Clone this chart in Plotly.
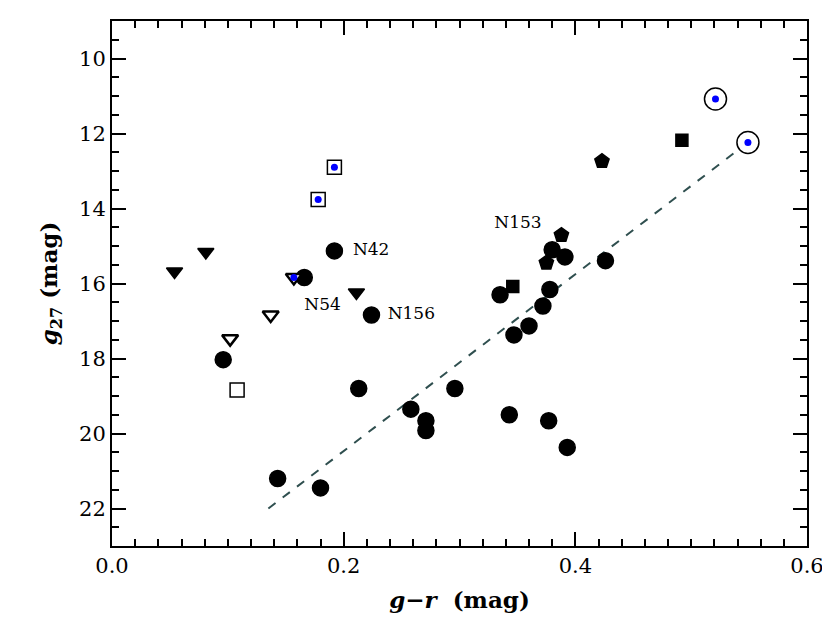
import plotly.graph_objects as go

circ_x = [0.192,0.166,0.224,0.096,0.213,0.143,0.180,0.258,0.271,0.271,0.296,0.335,0.347,0.360,0.372,0.378,0.380,0.391,0.426,0.343,0.377,0.393]
circ_y = [15.13,15.84,16.84,18.03,18.80,21.20,21.45,19.35,19.66,19.92,18.80,16.30,17.37,17.13,16.60,16.16,15.10,15.29,15.39,19.50,19.66,20.37]
pent_x = [0.423,0.388,0.375]
pent_y = [12.74,14.71,15.45]
sq_x = [0.346,0.492]
sq_y = [16.08,12.18]
tri_x = [0.054,0.081,0.211]
tri_y = [15.68,15.16,16.24]
otri_x = [0.137,0.102,0.157]
otri_y = [16.84,17.47,15.84]
osq_x = [0.192,0.178,0.108]
osq_y = [12.90,13.76,18.84]
ocirc_x = [0.521,0.549]
ocirc_y = [11.08,12.24]
dot_x = [0.192,0.178,0.157,0.521,0.549]
dot_y = [12.90,13.76,15.84,11.08,12.24]
fit_x = [0.135,0.549]
fit_y = [22.0,12.24]
lab_text = ["N42","N54","N156","N153"]
lab_x = [0.208,0.166,0.238,0.330]
lab_y = [15.13,16.6,16.84,14.4]

font = "DejaVu Serif"
fig = go.Figure()
fig.add_trace(go.Scatter(x=fit_x, y=fit_y, mode="lines", line=dict(color="#2f4f4f", width=2, dash="dash")))
def sc(x, y, sym, size, fill, lw=1.5):
    fig.add_trace(go.Scatter(x=x, y=y, mode="markers",
        marker=dict(symbol=sym, size=size, color=fill, line=dict(color="black", width=lw))))
sc(circ_x, circ_y, "circle", 16, "black")
sc(pent_x, pent_y, "pentagon", 15, "black")
sc(sq_x, sq_y, "square", 12, "black")
sc(tri_x, tri_y, "triangle-down", 14, "black")
sc(otri_x, otri_y, "triangle-down", 14, "white", 2.5)
sc(osq_x, osq_y, "square", 14, "white")
sc(ocirc_x, ocirc_y, "circle", 22, "white")
sc(dot_x, dot_y, "circle", 7, "blue", 0)
fig.add_trace(go.Scatter(x=lab_x, y=lab_y, text=lab_text, mode="text", textposition="middle right",
    textfont=dict(family=font, size=17, color="black")))

ax = dict(showline=True, linecolor="black", linewidth=2, mirror="ticks", ticks="inside",
          ticklen=14, tickwidth=2, tickcolor="black", showgrid=False, zeroline=False,
          tickfont=dict(family=font, size=21, color="black"))
fig.update_xaxes(**ax, range=[0, 0.6], dtick=0.2, tickformat=".1f",
    minor=dict(ticks="inside", ticklen=7, dtick=0.02, tickcolor="black", tickwidth=2),
    title=dict(text="<b><i>g</i>−<i>r</i>  (mag)</b>", font=dict(family=font, size=23, color="black")))
fig.update_yaxes(**ax, range=[23, 9], dtick=2,
    minor=dict(ticks="inside", ticklen=7, dtick=0.5, tickcolor="black", tickwidth=2),
    title=dict(text="<b><i>g</i><sub>27</sub> (mag)</b>", font=dict(family=font, size=23, color="black")))
fig.update_layout(width=830, height=630, showlegend=False, plot_bgcolor="white", paper_bgcolor="white",
    margin=dict(l=104, r=31, t=11, b=92))
fig.write_html("out.html")
